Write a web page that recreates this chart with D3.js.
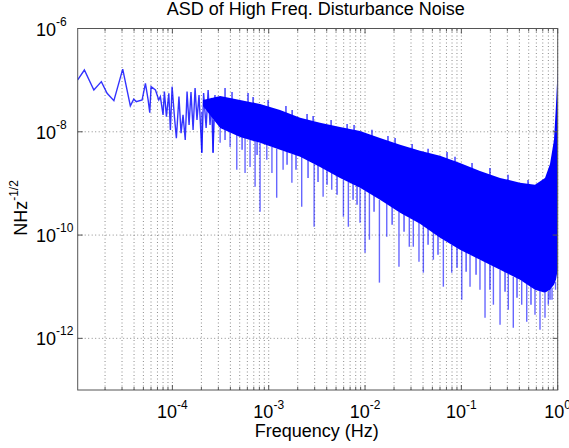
<!DOCTYPE html>
<html>
<head>
<meta charset="utf-8">
<script src="https://cdn.jsdelivr.net/npm/d3@7"></script>
<style>
	body { margin: 0; background: #fff; }
	text { font-family: "Liberation Sans", Arial, sans-serif; fill: #000; }
</style>
</head>
<body>
<div id="chart"></div>
<script>
// low frequency part of the spectrum, drawn as a plain line (Hz, N/sqrt(Hz))
const lineFreq = [1.04e-5, 1.22e-5, 1.53e-5, 1.83e-5, 2.10e-5, 2.47e-5, 3.05e-5, 3.66e-5, 3.97e-5, 4.22e-5, 4.85e-5, 5.25e-5, 5.60e-5, 5.82e-5, 6.01e-5, 6.67e-5, 7.22e-5, 7.50e-5, 8.00e-5, 8.26e-5, 8.67e-5, 9.18e-5, 9.53e-5, 9.93e-5, 1.05e-4, 1.10e-4, 1.17e-4, 1.23e-4, 1.29e-4, 1.36e-4, 1.42e-4, 1.49e-4, 1.56e-4, 1.64e-4, 1.72e-4, 1.80e-4, 1.89e-4, 2.02e-4, 2.11e-4, 2.24e-4, 2.35e-4, 2.46e-4, 2.55e-4, 2.64e-4, 2.77e-4]
const lineAsd = [1.01e-7, 1.57e-7, 6.45e-8, 9.35e-8, 5.58e-8, 4.01e-8, 1.63e-7, 3.17e-8, 4.28e-8, 3.84e-8, 4.14e-8, 8.7e-8, 4.14e-8, 2.35e-8, 7.48e-8, 6.45e-8, 4.14e-8, 4.80e-8, 2.12e-8, 6.0e-8, 1.97e-8, 5.58e-8, 1.09e-8, 7.48e-8, 1.97e-8, 7.52e-9, 4.8e-8, 9.4e-9, 2.12e-8, 6.97e-9, 6.0e-8, 1.36e-8, 5.91e-8, 1.09e-8, 7.06e-8, 1.70e-8, 5.17e-8, 3.91e-9, 5.65e-8, 1.19e-8, 6.45e-8, 1.36e-8, 4.53e-8, 3.91e-9, 5.17e-8]

// dense part: envelope of the fast oscillating trace
const bandFreq = [2.08e-4, 3.13e-4, 5.04e-4, 8.13e-4, 1.31e-3, 2.12e-3, 3.41e-3, 5.50e-3, 8.87e-3, 1.43e-2, 2.31e-2, 3.72e-2, 6.00e-2, 9.68e-2, 0.156, 0.252, 0.406, 0.581, 0.738, 0.832, 0.915, 0.960, 1.0]
const bandUpper = [4.14e-8, 4.95e-8, 4.14e-8, 3.46e-8, 2.65e-8, 1.86e-8, 1.49e-8, 1.24e-8, 1.04e-8, 7.62e-9, 5.58e-9, 4.27e-9, 3.42e-9, 2.50e-9, 1.75e-9, 1.28e-9, 1.03e-9, 9.4e-10, 1.28e-9, 2.39e-9, 6.97e-9, 3.31e-8, 1.72e-7]
const bandLower = [3.17e-8, 1.19e-8, 7.97e-9, 6.10e-9, 4.47e-9, 3.27e-9, 2.09e-9, 1.28e-9, 8.22e-10, 4.82e-10, 2.70e-10, 1.65e-10, 8.87e-11, 5.19e-11, 3.33e-11, 2.13e-11, 1.37e-11, 8.75e-12, 7.66e-12, 8.75e-12, 1.09e-11, 1.37e-11, 2.13e-11]

// deep dips below the band
const spikeFreq = [2.02e-4, 2.65e-4, 3.13e-4, 3.97e-4, 4.66e-4, 5.68e-4, 6.40e-4, 7.22e-4, 8.13e-4, 9.55e-4, 1.08e-3, 1.21e-3, 1.41e-3, 1.74e-3, 2.20e-3, 2.96e-3, 3.67e-3, 4.51e-3, 5.96e-3, 6.71e-3, 8.87e-3, 1.00e-2, 1.11e-2, 1.41e-2, 1.68e-2, 2.25e-2, 2.88e-2, 3.17e-2, 3.63e-2, 4.03e-2, 5.12e-2, 6.50e-2, 7.94e-2, 0.101, 0.123, 0.156, 0.176, 0.215, 0.252, 0.307, 0.346, 0.423, 0.477, 0.581, 0.655, 0.738, 0.799, 0.873, 0.949]
const spikeTop = [2.43e-8, 1.70e-8, 1.19e-8, 9.96e-9, 8.71e-9, 7.62e-9, 6.97e-9, 6.67e-9, 6.10e-9, 5.58e-9, 5.10e-9, 4.67e-9, 4.27e-9, 3.74e-9, 3.27e-9, 2.39e-9, 2.00e-9, 1.60e-9, 1.17e-9, 1.07e-9, 8.22e-10, 7.19e-10, 6.58e-10, 4.82e-10, 4.03e-10, 2.82e-10, 2.16e-10, 1.98e-10, 1.73e-10, 1.51e-10, 1.11e-10, 8.11e-11, 6.49e-11, 5.19e-11, 4.14e-11, 3.33e-11, 3.05e-11, 2.55e-11, 2.13e-11, 1.78e-11, 1.56e-11, 1.31e-11, 1.14e-11, 8.75e-12, 8.37e-12, 7.66e-12, 8.0e-12, 9.56e-12, 1.25e-11]
const spikeBottom = [3.91e-9, 3.91e-9, 6.10e-9, 5.10e-9, 1.83e-9, 1.60e-9, 2.09e-9, 8.59e-10, 2.82e-10, 2.86e-9, 1.60e-9, 5.27e-10, 1.83e-9, 1.03e-9, 3.53e-10, 1.45e-10, 5.51e-10, 7.52e-10, 2.26e-10, 1.45e-10, 1.73e-10, 4.55e-11, 8.11e-11, 1.20e-11, 9.27e-11, 2.44e-11, 5.94e-11, 5.94e-11, 3.05e-11, 1.87e-11, 3.33e-11, 1.00e-11, 1.87e-11, 5.60e-12, 1.00e-11, 8.75e-12, 2.52e-12, 4.48e-12, 1.84e-12, 3.59e-12, 1.61e-12, 4.48e-12, 2.10e-12, 2.87e-12, 1.47e-12, 2.52e-12, 4.48e-12, 5.60e-12, 8.75e-12]

// short peaks poking out of the top of the band
const upFreq = [3.52e-4, 4.16e-4, 6.10e-4, 6.88e-4, 9.85e-4, 1.51e-3, 1.75e-3, 2.50e-3, 2.89e-3, 4.44e-3, 6.51e-3, 7.69e-3, 1.18e-2, 1.73e-2, 2.05e-2, 3.08e-2, 4.51e-2, 7.10e-2, 8.59e-2, 0.129, 0.198, 0.305, 0.492]
const upTop = [7.07e-8, 5.91e-8, 5.65e-8, 4.73e-8, 4.14e-8, 3.17e-8, 2.65e-8, 2.22e-8, 2.03e-8, 1.70e-8, 1.42e-8, 1.36e-8, 1.09e-8, 8.33e-9, 7.62e-9, 5.83e-9, 4.67e-9, 4.08e-9, 3.27e-9, 2.50e-9, 2.00e-9, 1.47e-9, 1.17e-9]
const upBottom = [3.79e-8, 3.46e-8, 3.17e-8, 2.90e-8, 2.43e-8, 1.86e-8, 1.70e-8, 1.36e-8, 1.24e-8, 1.09e-8, 9.11e-9, 8.71e-9, 6.97e-9, 5.34e-9, 4.47e-9, 3.91e-9, 3.13e-9, 2.50e-9, 2.29e-9, 1.68e-9, 1.17e-9, 8.99e-10, 7.52e-10]

// short dips along the bottom of the band
const loFreq = [3.52e-4, 5.29e-4, 7.57e-4, 1.55e-3, 1.92e-3, 2.56e-3, 3.25e-3, 4.03e-3, 5.12e-3, 7.51e-3, 8.26e-3, 1.24e-2, 1.91e-2, 2.54e-2, 4.51e-2, 5.72e-2, 9.01e-2, 0.112, 0.142, 0.198, 0.284, 0.378, 0.528, 0.832]
const loTop = [1.36e-8, 9.96e-9, 7.62e-9, 4.88e-9, 4.47e-9, 3.57e-9, 2.86e-9, 2.29e-9, 1.83e-9, 1.28e-9, 1.17e-9, 7.52e-10, 4.82e-10, 3.37e-10, 1.81e-10, 1.38e-10, 8.11e-11, 6.49e-11, 5.19e-11, 3.64e-11, 2.66e-11, 2.13e-11, 1.37e-11, 1.25e-11]
const loBottom = [6.97e-9, 4.47e-9, 3.57e-9, 2.29e-9, 1.83e-9, 1.28e-9, 1.07e-9, 9.39e-10, 6.02e-10, 4.82e-10, 3.86e-10, 2.82e-10, 1.58e-10, 1.16e-10, 6.49e-11, 4.16e-11, 2.33e-11, 1.95e-11, 1.71e-11, 8.75e-12, 8.0e-12, 6.12e-12, 4.48e-12, 5.60e-12]

const xTicks = [1e-4, 1e-3, 1e-2, 1e-1, 1]
const xTickExp = ["-4", "-3", "-2", "-1", "0"]
const yTicks = [1e-6, 1e-8, 1e-10, 1e-12]
const yTickExp = ["-6", "-8", "-10", "-12"]

const totalWidth = 569
const totalHeight = 448
const margin = { top: 28.5, right: 11.3, bottom: 58, left: 77.7 }
const width = totalWidth - margin.left - margin.right
const height = totalHeight - margin.top - margin.bottom
const blue = "#0000ff"

const svg = d3
	.select("#chart")
	.append("svg")
	.attr("width", totalWidth)
	.attr("height", totalHeight)

svg.append("rect").attr("width", totalWidth).attr("height", totalHeight).attr("fill", "#fff")

const g = svg
	.append("g")
	.attr("transform", `translate(${margin.left},${margin.top})`)

const xScale = d3.scaleLog().domain([1.04e-5, 1]).range([0, width])
const yScale = d3.scaleLog().domain([1e-13, 1e-6]).range([height, 0])

g.append("defs")
	.append("clipPath")
	.attr("id", "clip-asd")
	.append("rect")
	.attr("width", width)
	.attr("height", height)

// grid: every integer multiple on x, labelled decades on y
const gridX = xScale.ticks()
g.append("g")
	.selectAll("line")
	.data(gridX)
	.join("line")
	.attr("x1", (d) => xScale(d))
	.attr("x2", (d) => xScale(d))
	.attr("y1", 0)
	.attr("y2", height)
	.attr("stroke", "#8c8c8c")
	.attr("stroke-width", 1)
	.attr("stroke-dasharray", "1,2.5")

g.append("g")
	.selectAll("line")
	.data(yTicks.slice(1))
	.join("line")
	.attr("x1", 0)
	.attr("x2", width)
	.attr("y1", (d) => yScale(d))
	.attr("y2", (d) => yScale(d))
	.attr("stroke", "#8c8c8c")
	.attr("stroke-width", 1)
	.attr("stroke-dasharray", "1,2.5")

const plot = g.append("g").attr("clip-path", "url(#clip-asd)")

// vertical strokes between two values at one frequency
function drawStrokes(freq, hi, lo, opacity, widthPx) {
	const rows = freq.map((f, i) => ({ f, hi: hi[i], lo: lo[i] }))
	plot.append("g")
		.selectAll("line")
		.data(rows)
		.join("line")
		.attr("x1", (d) => xScale(d.f))
		.attr("x2", (d) => xScale(d.f))
		.attr("y1", (d) => yScale(d.hi))
		.attr("y2", (d) => yScale(d.lo))
		.attr("stroke", blue)
		.attr("stroke-opacity", opacity)
		.attr("stroke-width", widthPx)
}

drawStrokes(spikeFreq, spikeTop, spikeBottom, 0.6, 1.4)
drawStrokes(loFreq, loTop, loBottom, 0.7, 1.4)
drawStrokes(upFreq, upTop, upBottom, 0.85, 1.3)

const band = bandFreq.map((f, i) => ({ f, hi: bandUpper[i], lo: bandLower[i] }))
const area = d3
	.area()
	.x((d) => xScale(d.f))
	.y0((d) => yScale(d.lo))
	.y1((d) => yScale(d.hi))

plot.append("path")
	.datum(band)
	.attr("fill", blue)
	.attr("d", area)

const trace = lineFreq.map((f, i) => ({ f, v: lineAsd[i] }))
const line = d3
	.line()
	.x((d) => xScale(d.f))
	.y((d) => yScale(d.v))

plot.append("path")
	.datum(trace)
	.attr("fill", "none")
	.attr("stroke", blue)
	.attr("stroke-opacity", 0.8)
	.attr("stroke-width", 1.4)
	.attr("d", line)

// axes box with inward ticks
const axisColor = "#555"
g.append("rect")
	.attr("width", width)
	.attr("height", height)
	.attr("fill", "none")
	.attr("stroke", axisColor)
	.attr("stroke-width", 1)

const tickG = g.append("g").attr("stroke", axisColor).attr("stroke-width", 1)
gridX.forEach((d) => {
	const len = xTicks.includes(d) ? 5 : 3
	const x = xScale(d)
	tickG.append("line").attr("x1", x).attr("x2", x).attr("y1", height).attr("y2", height - len)
	tickG.append("line").attr("x1", x).attr("x2", x).attr("y1", 0).attr("y2", len)
})
yTicks.forEach((d) => {
	const y = yScale(d)
	tickG.append("line").attr("x1", 0).attr("x2", 5).attr("y1", y).attr("y2", y)
	tickG.append("line").attr("x1", width).attr("x2", width - 5).attr("y1", y).attr("y2", y)
})

// tick labels as 10 with a raised exponent
const xLabels = g.append("g")
xTicks.forEach((d, i) => {
	const t = xLabels
		.append("text")
		.attr("x", xScale(d))
		.attr("y", height + 28)
		.attr("text-anchor", "middle")
		.attr("font-size", 18)
	t.append("tspan").text("10")
	t.append("tspan").attr("dy", -9).attr("font-size", 12).text(xTickExp[i])
})

const yLabels = g.append("g")
yTicks.forEach((d, i) => {
	const t = yLabels
		.append("text")
		.attr("x", 36 - margin.left)
		.attr("y", yScale(d) + 7)
		.attr("font-size", 18)
	t.append("tspan").text("10")
	t.append("tspan").attr("dy", -10).attr("font-size", 12).text(yTickExp[i])
})

svg.append("text")
	.attr("x", margin.left + width / 2 - 2)
	.attr("y", 15)
	.attr("text-anchor", "middle")
	.attr("font-size", 18)
	.text("ASD of High Freq. Disturbance Noise")

svg.append("text")
	.attr("x", margin.left + width / 2 - 1)
	.attr("y", 437)
	.attr("text-anchor", "middle")
	.attr("font-size", 18)
	.text("Frequency (Hz)")

const yTitle = svg
	.append("text")
	.attr("transform", "translate(27,208) rotate(-90)")
	.attr("text-anchor", "middle")
	.attr("font-size", 18)
yTitle.append("tspan").text("NHz")
yTitle.append("tspan").attr("dy", -9).attr("font-size", 12).text("-1/2")
</script>
</body>
</html>
